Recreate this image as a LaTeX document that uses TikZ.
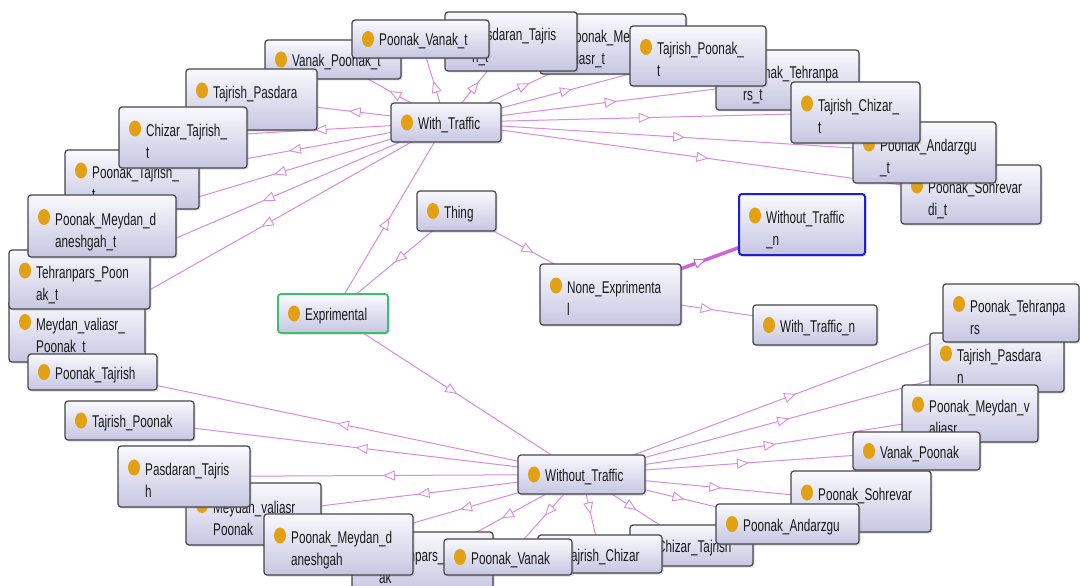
\documentclass[tikz,border=0pt]{standalone}
\usepackage{fontspec}
\usetikzlibrary{arrows.meta,decorations.markings,shadows}
\newfontfamily\lblfont[FakeStretch=0.69]{Liberation Sans}
\pgfdeclarelayer{background}
\pgfsetlayers{background,main}
\definecolor{boxtop}{RGB}{249,249,253}
\definecolor{boxbot}{RGB}{198,198,226}
\definecolor{boxline}{RGB}{70,70,74}
\definecolor{dotc}{RGB}{226,160,20}
\definecolor{edgec}{RGB}{216,140,222}
\definecolor{selc}{RGB}{208,100,214}
\definecolor{expgreen}{RGB}{60,190,110}
\definecolor{selblue}{RGB}{30,30,210}
\tikzset{
 classbox/.style={draw=boxline, line width=1.2pt, rounded corners=3pt, top color=boxtop, bottom color=boxbot, inner sep=0pt, outer sep=0pt, drop shadow={shadow xshift=1.5pt,shadow yshift=-1.5pt,opacity=0.3}},
 expbox/.style={draw=expgreen, line width=1.8pt},
 selbox/.style={draw=selblue, line width=2pt},
 lbl/.style={anchor=base west, inner sep=0pt, font={\lblfont\fontsize{17}{20}\selectfont}, text=black!90},
 edge/.style={draw=edgec, line width=1pt, postaction={decorate}, decoration={markings, mark=at position 0.5 with {\arrow{Triangle[length=12pt,width=10pt,fill=white,line width=0.9pt]}}}},
 seledge/.style={edge, draw=selc, line width=3.5pt},
}
\newcommand\classone[7]{%
  \node[classbox,#2,minimum width={#5-#3},minimum height={#6-#4}] (#1) at ({(#3+#5)/2},{(#4+#6)/2}) {};
  \fill[dotc] ([xshift=16pt]#1.west) ellipse (6pt and 8pt);
  \node[lbl] (#1-a) at ([xshift=27pt,yshift=-7pt]#1.west) {#7};
}
\newcommand\classtwo[8]{%
  \node[classbox,#2,minimum width={#5-#3},minimum height={#6-#4}] (#1) at ({(#3+#5)/2},{(#4+#6)/2}) {};
  \fill[dotc] ([xshift=16pt,yshift=9pt]#1.west) ellipse (6pt and 8pt);
  \node[lbl] (#1-a) at ([xshift=27pt,yshift=1pt]#1.west) {#7};
  \node[lbl] (#1-b) at ([xshift=27pt,yshift=-21pt]#1.west) {#8};
}
\newcommand\classtwohidden[7]{%
  \node[classbox,#2,minimum width={#5-#3},minimum height={#6-#4}] (#1) at ({(#3+#5)/2},{(#4+#6)/2}) {};
  \fill[dotc] ([xshift=16pt,yshift=9pt]#1.west) ellipse (6pt and 8pt);
  \node[lbl] (#1-a) at ([xshift=27pt,yshift=1pt]#1.west) {#7};
}
\begin{document}
\begin{tikzpicture}[x=1pt,y=-1pt]
\useasboundingbox (0,0) rectangle (1080,586);
\clip (0,0) rectangle (1080,586);
% top group (children of With_Traffic)
\classtwo{mvpt}{}{9}{300}{145}{362}{Meydan\_valiasr\_}{Poonak\_t}
\classtwo{tpt}{}{9}{250}{150}{309}{Tehranpars\_Poon}{ak\_t}
\classtwo{ptt}{}{65}{150}{199}{209}{Poonak\_Tajrish\_}{t}
\classtwo{pmdt}{}{28}{195}{176}{257}{Poonak\_Meydan\_d}{aneshgah\_t}
\classone{vpt}{}{265}{40}{401}{79}{Vanak\_Poonak\_t}
\classtwohidden{tpat}{}{186}{69}{317}{130}{Tajrish\_Pasdara}
\classtwo{ctt}{}{119}{107}{247}{168}{Chizar\_Tajrish\_}{t}
\classtwo{pmvt}{}{540}{14}{686}{74}{Poonak\_Meydan\_v}{aliasr\_t}
\classtwo{pdtt}{}{445}{12}{577}{71}{Pasdaran\_Tajris}{h\_t}
\classone{pvt}{}{352}{20}{489}{58}{Poonak\_Vanak\_t}
\classtwo{pteht}{}{716}{50}{859}{110}{Poonak\_Tehranpa}{rs\_t}
\classtwo{tpot}{}{630}{26}{766}{86}{Tajrish\_Poonak\_}{t}
\classtwo{psot}{}{901}{165}{1041}{224}{Poonak\_Sohrevar}{di\_t}
\classtwo{pant}{}{853}{122}{996}{183}{Poonak\_Andarzgu}{\_t}
\classtwo{tcht}{}{791}{82}{920}{143}{Tajrish\_Chizar\_}{t}
% middle
\classone{wt}{}{391}{103}{501}{142}{With\_Traffic}
\classone{thing}{}{417}{191}{496}{231}{Thing}
\classone{exp}{expbox}{278}{294}{388}{333}{Exprimental}
\classtwo{nonexp}{}{540}{264}{681}{325}{None\_Exprimenta}{l}
\classtwo{wotn}{selbox}{739}{194}{865}{255}{Without\_Traffic}{\_n}
\classone{wtn}{}{753}{305}{877}{345}{With\_Traffic\_n}
\classone{wot}{}{518}{455}{645}{494}{Without\_Traffic}
% bottom group (children of Without_Traffic)
\classtwo{tpab}{}{930}{333}{1064}{392}{Tajrish\_Pasdara}{n}
\classtwo{ptehb}{}{943}{284}{1079}{342}{Poonak\_Tehranpa}{rs}
\classtwo{pmvb}{}{902}{385}{1038}{442}{Poonak\_Meydan\_v}{aliasr}
\classtwohidden{psob}{}{791}{471}{931}{532}{Poonak\_Sohrevar}
\classone{vpb}{}{853}{432}{980}{470}{Vanak\_Poonak}
\classone{ctb}{}{630}{525}{753}{566}{Chizar\_Tajrish}
\classone{panb}{}{716}{504}{859}{544}{Poonak\_Andarzgu}
\classone{tchb}{}{538}{535}{662}{573}{Tajrish\_Chizar}
\classtwo{tpb}{}{352}{532}{493}{592}{Tehranpars\_Poon}{ak}
\classone{pvb}{}{444}{539}{572}{575}{Poonak\_Vanak}
\classtwo{mvpb}{}{186}{483}{321}{545}{Meydan\_valiasr\_}{Poonak}
\classtwo{pdtb}{}{118}{446}{250}{507}{Pasdaran\_Tajris}{h}
\classtwo{pmdb}{}{264}{514}{413}{575}{Poonak\_Meydan\_d}{aneshgah}
\classone{tpob}{}{65}{401}{194}{440}{Tajrish\_Poonak}
\classone{ptb}{}{28}{354}{157}{390}{Poonak\_Tajrish}
% connectors
\begin{pgfonlayer}{background}
\fill[white] (0,0) rectangle (1080,586);
\foreach \c in {mvpt,tpt,ptt,pmdt,vpt,tpat,ctt,pmvt,pdtt,pvt,pteht,tpot,psot,pant,tcht}
  \draw[edge] (wt.center) -- (\c.center);
\foreach \c in {tpab,ptehb,pmvb,psob,vpb,ctb,panb,tchb,tpb,pvb,mvpb,pdtb,pmdb,tpob,ptb}
  \draw[edge] (wot.center) -- (\c.center);
\draw[edge] (thing.center) -- (exp.center);
\draw[edge] (thing.center) -- (nonexp.center);
\draw[edge] (exp.center) -- (wt.center);
\draw[edge] (exp.center) -- (wot.center);
\draw[edge] (nonexp.center) -- (wtn.center);
\draw[seledge] (nonexp.center) -- (wotn.center);
\end{pgfonlayer}
\end{tikzpicture}
\end{document}
